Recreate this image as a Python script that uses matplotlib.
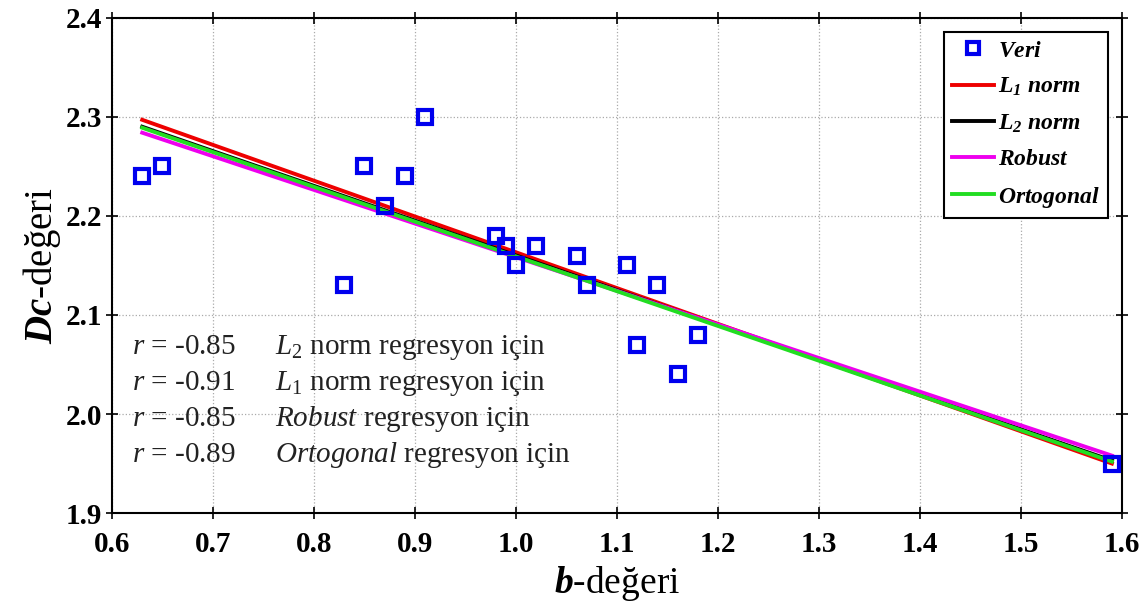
import matplotlib.pyplot as plt

plt.rcParams['font.family'] = 'Liberation Serif'
plt.rcParams['mathtext.fontset'] = 'custom'
plt.rcParams['mathtext.rm'] = 'Liberation Serif'
plt.rcParams['mathtext.it'] = 'Liberation Serif:italic'
# bf used as bold italic (matlab-like labels)
plt.rcParams['mathtext.bf'] = 'Liberation Serif:italic:bold'

# data
b_vals = [0.63, 0.65, 0.83, 0.85, 0.87, 0.89, 0.91, 0.98, 0.99, 1.00,
          1.02, 1.06, 1.07, 1.11, 1.12, 1.14, 1.16, 1.18, 1.59]
dc_vals = [2.24, 2.25, 2.13, 2.25, 2.21, 2.24, 2.30, 2.18, 2.17, 2.15,
           2.17, 2.16, 2.13, 2.15, 2.07, 2.13, 2.04, 2.08, 1.95]

fit_x = [0.63, 1.59]
l1_y = [2.297, 1.950]
l2_y = [2.290, 1.953]
robust_y = [2.284, 1.958]
orto_y = [2.289, 1.952]

r_labels = ['-0.85', '-0.91', '-0.85', '-0.89']
r_methods = [r'$L_2$ norm regresyon için', r'$L_1$ norm regresyon için',
             r'$\mathit{Robust}$ regresyon için', r'$\mathit{Ortogonal}$ regresyon için']

fig = plt.figure(figsize=(11.42, 6.13), dpi=100)
ax = fig.add_axes([0.098, 0.163, 0.8845, 0.808])

ax.plot(b_vals, dc_vals, 's', ms=10, mfc='none', mec='#0000ee', mew=3,
        label=r'$\mathbf{Veri}$', zorder=5)
ax.plot(fit_x, l1_y, color='#ee0000', lw=2.8, label=r'$\mathbf{L_1\ norm}$')
ax.plot(fit_x, l2_y, color='black', lw=2.8, label=r'$\mathbf{L_2\ norm}$')
ax.plot(fit_x, robust_y, color='#ee00ee', lw=2.8, label=r'$\mathbf{Robust}$')
ax.plot(fit_x, orto_y, color='#22dd22', lw=2.8, label=r'$\mathbf{Ortogonal}$')

ax.set_xlim(0.6, 1.6)
ax.set_ylim(1.9, 2.4)
ax.set_xticks([0.6, 0.7, 0.8, 0.9, 1.0, 1.1, 1.2, 1.3, 1.4, 1.5, 1.6])
ax.set_yticks([1.9, 2.0, 2.1, 2.2, 2.3, 2.4])
ax.xaxis.set_major_formatter(plt.FormatStrFormatter('%.1f'))
ax.yaxis.set_major_formatter(plt.FormatStrFormatter('%.1f'))
ax.tick_params(direction='inout', length=8, width=1.2, top=True, right=True,
               labelsize=21, pad=3)
ax.tick_params(axis='x', pad=9)
for lbl in ax.get_xticklabels() + ax.get_yticklabels():
    lbl.set_fontweight('bold')
for sp in ax.spines.values():
    sp.set_linewidth(1.5)
ax.grid(True, linestyle=':', color='#aaaaaa', lw=0.9)

ax.set_xlabel(r'$\mathbf{b}$-değeri', fontsize=27, labelpad=4)
ax.set_ylabel(r'$\mathbf{Dc}$-değeri', fontsize=28, labelpad=2)

ys = [0.335, 0.262, 0.190, 0.117]
for y, rv, m in zip(ys, r_labels, r_methods):
    ax.text(0.02, y, r'$r$ = ' + rv, transform=ax.transAxes, fontsize=21,
            va='center', color='#222222')
    ax.text(0.161, y, m, transform=ax.transAxes, fontsize=21,
            va='center', color='#222222')

leg = ax.legend(loc='upper right', fontsize=17, fancybox=False, framealpha=1,
                edgecolor='black', handlelength=1.8, handletextpad=0.15,
                borderpad=0.35, labelspacing=0.6, borderaxespad=0.6,
                markerscale=0.8)
leg.get_frame().set_linewidth(1.5)

fig.savefig('out.png', dpi=100)
